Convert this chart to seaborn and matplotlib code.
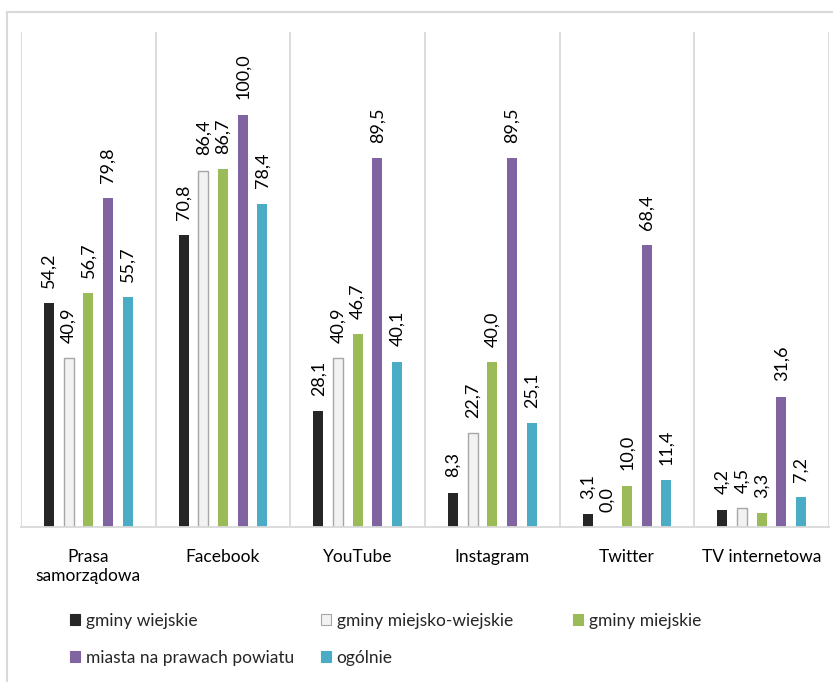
import matplotlib
matplotlib.use("Agg")
import matplotlib.pyplot as plt
from matplotlib.patches import Patch
from matplotlib.lines import Line2D
import seaborn as sns
import pandas as pd

categories = ["Prasa\nsamorządowa", "Facebook", "YouTube", "Instagram", "Twitter", "TV internetowa"]
series = ["gminy wiejskie", "gminy miejsko-wiejskie", "gminy miejskie",
          "miasta na prawach powiatu", "ogólnie"]
gminy_wiejskie = [54.2, 70.8, 28.1, 8.3, 3.1, 4.2]
gminy_miejsko_wiejskie = [40.9, 86.4, 40.9, 22.7, 0.0, 4.5]
gminy_miejskie = [56.7, 86.7, 46.7, 40.0, 10.0, 3.3]
miasta_na_prawach_powiatu = [79.8, 100.0, 89.5, 89.5, 68.4, 31.6]
ogolnie = [55.7, 78.4, 40.1, 25.1, 11.4, 7.2]
values = [gminy_wiejskie, gminy_miejsko_wiejskie, gminy_miejskie,
          miasta_na_prawach_powiatu, ogolnie]
colors = ["#262626", "#F2F2F2", "#9BBB59", "#8064A2", "#4BACC6"]

rows = []
for s, vals in zip(series, values):
    for c, v in zip(categories, vals):
        rows.append({"kategoria": c, "seria": s, "wartosc": v})
df = pd.DataFrame(rows)

sns.set_style("white")
plt.rcParams["font.family"] = ["Lato", "DejaVu Sans"]

fig = plt.figure(figsize=(8.33, 6.82), dpi=100)
ax = fig.add_axes([21 / 833, 1 - 527 / 682, (829 - 21) / 833, (527 - 32) / 682])

sns.barplot(data=df, x="kategoria", y="wartosc", hue="seria", order=categories,
            hue_order=series, palette=dict(zip(series, colors)), width=0.73, gap=0.49,
            saturation=1, legend=False, ax=ax, linewidth=0)

for i, cont in enumerate(ax.containers):
    if i == 1:
        for p in cont:
            p.set_edgecolor("#A6A6A6")
            p.set_linewidth(1.0)
    labels = [f"{v:.1f}".replace(".", ",") for v in values[i]]
    ax.bar_label(cont, labels=labels, rotation=90, padding=11, fontsize=13,
                 color="#000000")

ax.set_ylim(0, 120)
ax.set_xlim(-0.5, len(categories) - 0.5)
for xb in range(len(categories) + 1):
    ax.axvline(xb - 0.5, color="#D9D9D9", lw=1.3, zorder=0)
for side in ["top", "left", "right"]:
    ax.spines[side].set_visible(False)
ax.spines["bottom"].set_color("#D9D9D9")
ax.spines["bottom"].set_linewidth(1.3)
ax.set_yticks([])
ax.set_xlabel("")
ax.set_ylabel("")
ax.tick_params(axis="x", length=0, pad=16, labelsize=12.5, colors="#000000")

handles = [Patch(facecolor=c, edgecolor=("#A6A6A6" if i == 1 else c), linewidth=0.8)
           for i, c in enumerate(colors)]
# legend laid out row by row in three equally spaced columns
col_x = [70, 321, 573]
columns = [[0, 3], [1, 4], [2]]
for cx, idxs in zip(col_x, columns):
    leg = fig.legend([handles[k] for k in idxs], [series[k] for k in idxs],
                     loc="upper left", bbox_to_anchor=(cx / 833, 1 - 613 / 682),
                     ncol=1, frameon=False, fontsize=12.5, handlelength=0.6,
                     handleheight=0.6, handletextpad=0.3, labelspacing=1.2,
                     borderaxespad=0, borderpad=0)

# outer chart frame
fig.add_artist(Line2D([7 / 833, 1], [1 - 12 / 682, 1 - 12 / 682],
                      transform=fig.transFigure, color="#D9D9D9", lw=1.5))
fig.add_artist(Line2D([7 / 833, 7 / 833], [0, 1 - 12 / 682],
                      transform=fig.transFigure, color="#D9D9D9", lw=1.5))

fig.savefig("out.png", dpi=100)
